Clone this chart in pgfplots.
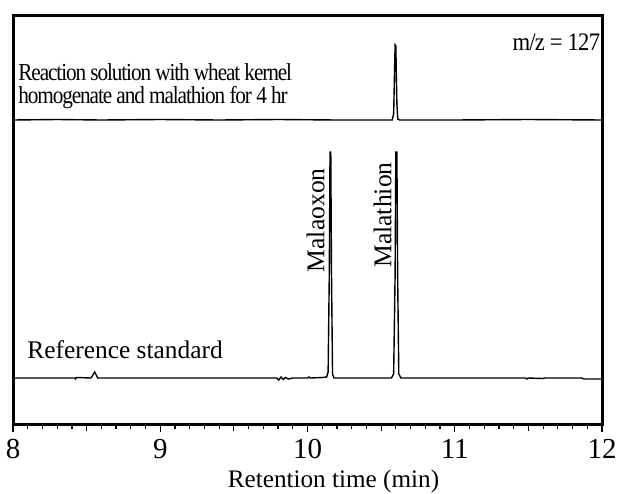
\documentclass[border=0pt]{standalone}
\usepackage{fontspec}
\setmainfont{Liberation Serif}
\newfontfamily\condA[FakeStretch=0.87, LetterSpace=-4.5]{Liberation Serif}
\newfontfamily\condB[FakeStretch=0.9, LetterSpace=-3]{Liberation Serif}
\usepackage{pgfplots}
\pgfplotsset{compat=1.18}
\begin{document}
\begin{tikzpicture}
\begin{axis}[
  scale only axis, width=294.5pt, height=204pt,
  xmin=8, xmax=12, ymin=0, ymax=408,
  axis line style={line width=1.5pt},
  ytick=\empty,
  xtick={8,9,10,11,12},
  minor x tick num=9,
  extra x ticks={8.5,9.5,10.5,11.5},
  extra x tick labels={},
  extra tick style={major tick length=3.5pt},
  tick align=outside,
  xtick pos=left,
  major tick length=4pt, minor tick length=2.5pt,
  tick style={line width=0.6pt, black},
  xticklabel style={font=\fontsize{14.5}{16}\selectfont},
  /pgf/number format/assume math mode=true,
  xlabel={Retention time (min)},
  xlabel style={font=\fontsize{12.6}{14}\selectfont, at={(axis description cs:0.5,0)}, anchor=base, yshift=-31.5pt, xshift=13pt},
  clip=false,
]
\coordinate (bl) at (rel axis cs:0,0);
\coordinate (tr) at (rel axis cs:1,1);
% top trace
\addplot[black, line width=0.7pt] coordinates {
(8,304) (8.3,304.5) (8.6,304) (9.0,304.5) (9.4,304) (9.8,304.5) (10.2,304) (10.5,304)
(10.575,304) (10.585,310) (10.59,345) (10.595,379) (10.6,378) (10.603,350) (10.607,320)
(10.613,305) (10.625,304) (11,304) (11.5,304.5) (12,304)
};
% bottom trace
\addplot[black, line width=0.7pt] coordinates {
(8,46) (8.42,46) (8.425,45) (8.43,46.5) (8.53,46) (8.555,52) (8.575,46) (9.79,46)
(9.805,44) (9.82,47) (9.835,44.5) (9.85,46.5) (9.87,45) (9.9,46) (10.0,46) (10.01,47)
(10.02,46) (10.1,46.5) (10.13,47) (10.14,52) (10.148,150) (10.153,272) (10.158,272)
(10.163,150) (10.17,50) (10.18,46) (10.3,46) (10.57,46) (10.585,50) (10.595,150)
(10.6,272) (10.607,272) (10.612,150) (10.62,50) (10.635,46) (11.0,46) (11.48,46)
(11.49,45) (11.5,46) (11.6,45.5) (11.61,46) (11.86,46) (11.88,45) (12,45)
};
\node[rotate=90, anchor=south east, inner sep=0pt, font=\fontsize{12.8}{14}\selectfont] at (axis cs:10.119,256) {Malaoxon};
\node[rotate=90, anchor=south east, inner sep=0pt, font=\fontsize{12.8}{14}\selectfont] at (axis cs:10.574,262) {Malathion};
\node[anchor=base west, inner sep=0pt, font=\fontsize{12.7}{14}\selectfont] at (axis cs:8.095,66) {Reference standard};
\node[anchor=base east, inner sep=0pt, font=\condB\fontsize{12.6}{14}\selectfont] at (axis cs:11.99,374) {m/z = 127};
\node[anchor=base west, inner sep=0pt, font=\condA\fontsize{12.2}{14}\selectfont] at (axis cs:8.034,344) {Reaction solution with wheat kernel};
\node[anchor=base west, inner sep=0pt, font=\condA\fontsize{12.2}{14}\selectfont] at (axis cs:8.034,321) {homogenate and malathion for 4 hr};
\end{axis}
\pgfresetboundingbox
\path[use as bounding box] ([xshift=-6.5pt,yshift=-34.5pt]bl) rectangle ([xshift=7.5pt,yshift=8pt]tr);
\end{tikzpicture}
\end{document}
